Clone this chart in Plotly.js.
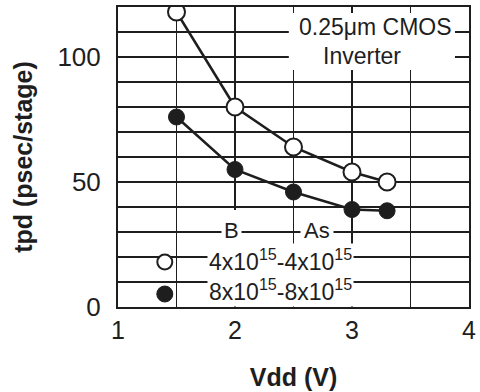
<!DOCTYPE html>
<html>
<head>
<meta charset="utf-8">
<script src="https://cdn.plot.ly/plotly-3.0.1.min.js"></script>
<style>
html,body{margin:0;padding:0;background:#fff;}
#chart{width:480px;height:392px;}
</style>
</head>
<body>
<div id="chart"></div>
<script>
// Data
var vdd = [1.5, 2, 2.5, 3, 3.3];
var tpdOpen = [118, 80, 64, 54, 50];      // 4x10^15 - 4x10^15
var tpdFilled = [76, 55, 46, 39, 38.5];   // 8x10^15 - 8x10^15
var legendKeyX = [1.40];
var legendOpenY = [18];
var legendFilledY = [5.2];
var xTickVals = [1, 2, 3, 4];
var xTickText = ['1', '2', '3', '4'];
var yTickVals = [0, 50, 100];
var yTickText = ['0', '50', '100'];
var noteLine1 = '0.25\u03bcm CMOS';
var noteLine2 = 'Inverter';
var labelB = 'B';
var labelAs = 'As';
var legendOpenText = '4x10<sup>15</sup>-4x10<sup>15</sup>';
var legendFilledText = '8x10<sup>15</sup>-8x10<sup>15</sup>';

var ink = '#1e1e1e';
var font = 'Liberation Sans, Arial, Helvetica, sans-serif';

var traces = [
  {x: vdd, y: tpdOpen, mode: 'lines+markers', type: 'scatter',
   line: {color: ink, width: 2.5},
   marker: {symbol: 'circle', size: 17, color: '#ffffff', line: {color: ink, width: 2}}},
  {x: vdd, y: tpdFilled, mode: 'lines+markers', type: 'scatter',
   line: {color: ink, width: 2.5},
   marker: {symbol: 'circle', size: 16, color: ink, line: {color: ink, width: 1}}},
  {x: legendKeyX, y: legendOpenY, mode: 'markers', type: 'scatter',
   marker: {symbol: 'circle', size: 15, color: '#ffffff', line: {color: ink, width: 2}}},
  {x: legendKeyX, y: legendFilledY, mode: 'markers', type: 'scatter',
   marker: {symbol: 'circle', size: 16, color: ink, line: {color: ink, width: 1}}}
];

var layout = {
  width: 480, height: 392,
  margin: {l: 118, r: 11, t: 7, b: 85},
  paper_bgcolor: '#ffffff', plot_bgcolor: '#ffffff',
  showlegend: false,
  font: {family: font, color: ink},
  xaxis: {
    range: [1, 4], tickvals: xTickVals, ticktext: xTickText,
    showgrid: true, gridcolor: ink, gridwidth: 1.5,
    minor: {dtick: 0.5, showgrid: true, gridcolor: ink, gridwidth: 1.5},
    zeroline: false, showline: true, mirror: true, linecolor: ink, linewidth: 2,
    ticks: '', tickfont: {size: 25, color: ink, family: font},
    title: {text: 'Vdd (V)', font: {size: 25, color: ink, family: font, weight: 'bold'}, standoff: 25},
    fixedrange: true
  },
  yaxis: {
    range: [0, 120], tickvals: yTickVals, ticktext: yTickText,
    showgrid: true, gridcolor: ink, gridwidth: 1.5,
    minor: {dtick: 10, showgrid: true, gridcolor: ink, gridwidth: 1.5},
    zeroline: false, showline: true, mirror: true, linecolor: ink, linewidth: 2,
    ticks: '', ticklabelstandoff: 10, tickfont: {size: 26, color: ink, family: font},
    title: {text: 'tpd (psec/stage)', font: {size: 25, color: ink, family: font, weight: 'bold'}, standoff: 18},
    fixedrange: true
  },
  shapes: [
    {type: 'rect', xref: 'x', yref: 'y', x0: 2.46, x1: 3.88, y0: 94.8, y1: 117.6,
     fillcolor: '#ffffff', line: {width: 0}, layer: 'between'},
    {type: 'rect', xref: 'x', yref: 'y', x0: 1.97, x1: 2.03, y0: 0.8, y1: 38.8,
     fillcolor: '#ffffff', line: {width: 0}, layer: 'between'},
    {type: 'rect', xref: 'x', yref: 'y', x0: 2.47, x1: 2.53, y0: 0.8, y1: 21.6,
     fillcolor: '#ffffff', line: {width: 0}, layer: 'between'}
  ],
  annotations: [
    {x: 3.197, y: 112.2, xref: 'x', yref: 'y', text: noteLine1, showarrow: false,
     font: {size: 23, color: ink, family: font}, xanchor: 'center', yanchor: 'middle'},
    {x: 3.085, y: 100.6, xref: 'x', yref: 'y', text: noteLine2, showarrow: false,
     font: {size: 23, color: ink, family: font}, xanchor: 'center', yanchor: 'middle'},
    {x: 1.966, y: 30.8, xref: 'x', yref: 'y', text: labelB, showarrow: false,
     font: {size: 22, color: ink, family: font}, bgcolor: '#ffffff', borderpad: 2,
     xanchor: 'center', yanchor: 'middle'},
    {x: 2.697, y: 30.8, xref: 'x', yref: 'y', text: labelAs, showarrow: false,
     font: {size: 22, color: ink, family: font}, bgcolor: '#ffffff', borderpad: 3,
     xanchor: 'center', yanchor: 'middle'},
    {x: 2.393, y: 19.0, xref: 'x', yref: 'y', text: legendOpenText, showarrow: false,
     font: {size: 23, color: ink, family: font}, bgcolor: '#ffffff', borderpad: 1,
     xanchor: 'center', yanchor: 'middle'},
    {x: 2.393, y: 6.8, xref: 'x', yref: 'y', text: legendFilledText, showarrow: false,
     font: {size: 23, color: ink, family: font}, bgcolor: '#ffffff', borderpad: 1,
     xanchor: 'center', yanchor: 'middle'}
  ]
};

Plotly.newPlot('chart', traces, layout, {displayModeBar: false, staticPlot: true});
</script>
</body>
</html>
